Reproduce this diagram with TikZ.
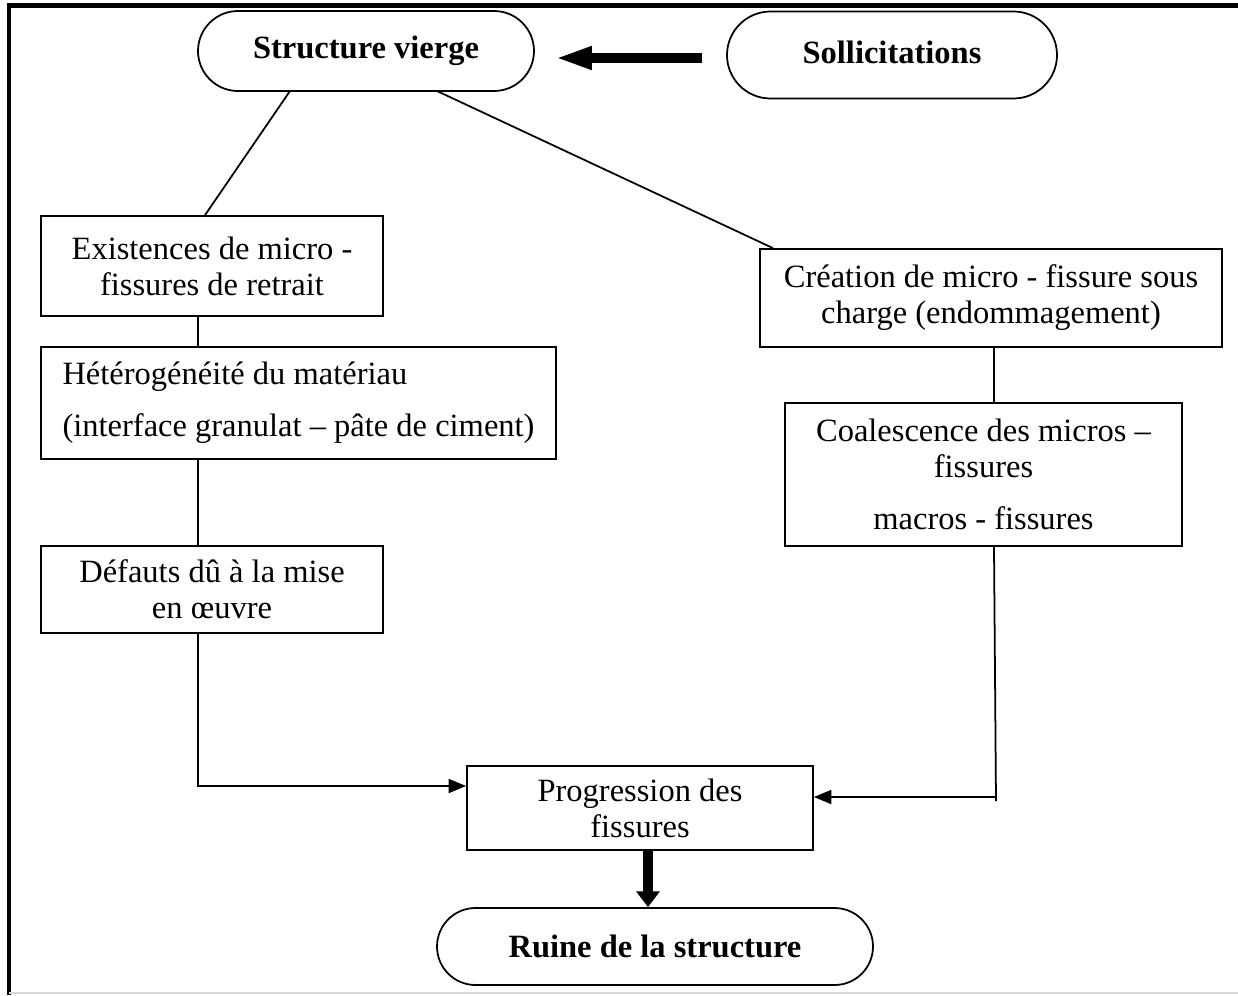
\documentclass[tikz,border=0pt]{standalone}
\usepackage{fontspec}
\setmainfont{Liberation Serif}
\usetikzlibrary{arrows.meta,shapes.misc}
\begin{document}
\begin{tikzpicture}[x=0.02cm,y=-0.02cm,
  box/.style={draw,line width=1pt,inner sep=0pt,font=\fontsize{18.5}{20.5}\selectfont},
  pill/.style={draw,line width=1pt,rounded rectangle,inner sep=0pt,font=\fontsize{18.5}{21}\selectfont\bfseries},
  conn/.style={line width=1pt},
  arr/.style={line width=1pt,-{Triangle[length=10pt,width=8pt]}},
  bigarr/.style={line width=6pt,-{Triangle[length=21pt,width=12pt]}},
  downarr/.style={line width=6pt,-{Triangle[length=9pt,width=13pt]}}]
\useasboundingbox (0,0) rectangle (1238,995);
\fill[white] (0,0) rectangle (1238,995);
% frame
\draw[line width=2.8pt] (9,995) -- (9,5.5) -- (1238,5.5);
\draw[line width=1pt,black!15] (9,993) -- (1238,993);
% nodes
\node[pill,minimum width=336*0.02cm,minimum height=80*0.02cm] (sv) at (366,51) {Structure vierge};
\node[pill,minimum width=330*0.02cm,minimum height=87*0.02cm] (so) at (892,55) {\raisebox{3pt}{Sollicitations}};
\node[box,minimum width=342*0.02cm,minimum height=100*0.02cm,align=center] (b1) at (212,266) {Existences de micro -\\fissures de retrait};
\node[box,minimum width=515*0.02cm,minimum height=112*0.02cm,align=left,font=\fontsize{18.5}{29.6}\selectfont] (b2) at (298.5,403) {Hétérogénéité du matériau\\(interface granulat -- pâte de ciment)};
\node[box,minimum width=342*0.02cm,minimum height=87*0.02cm,align=center] (b3) at (212,589.5) {Défauts dû à la mise\\en œuvre};
\node[box,minimum width=462*0.02cm,minimum height=98*0.02cm,align=center] (c1) at (991,298) {Création de micro - fissure sous\\charge (endommagement)};
\node[box,minimum width=397*0.02cm,minimum height=143*0.02cm,align=center] (c2) at (983.5,474.5) {Coalescence des micros --\\fissures\\[9pt]macros - fissures};
\node[box,minimum width=346*0.02cm,minimum height=84*0.02cm,align=center] (pr) at (640,808) {Progression des\\fissures};
\node[pill,minimum width=436*0.02cm,minimum height=77*0.02cm] (ru) at (655,946.5) {Ruine de la structure};
% connectors
\coordinate (svL) at (290,91);
\coordinate (svR) at (437,91);
\draw[conn] (svL) -- (b1.north -| 205,0);
\draw[conn] (svR) -- (c1.north -| 773,0);
\draw[conn] (b1.south -| 198,0) -- (b2.north -| 198,0);
\draw[conn] (b2.south -| 198,0) -- (b3.north -| 198,0);
\draw[arr] (b3.south -| 198,0) |- (pr.west |- 0,786);
\draw[conn] (c1.south -| 994,0) -- (c2.north -| 994,0);
\coordinate (ce) at (996,801);
\coordinate (cb) at (996,797);
\draw[conn] (c2.south -| 994,0) -- (ce);
\draw[arr] (cb) -- (pr.east |- cb);
\coordinate (sa) at (702,58);
\coordinate (sb) at (555,58);
\draw[bigarr] (sa) -- (sb);
\draw[downarr] (pr.south -| 648,0) -- (ru.north -| 648,0);
\end{tikzpicture}
\end{document}
